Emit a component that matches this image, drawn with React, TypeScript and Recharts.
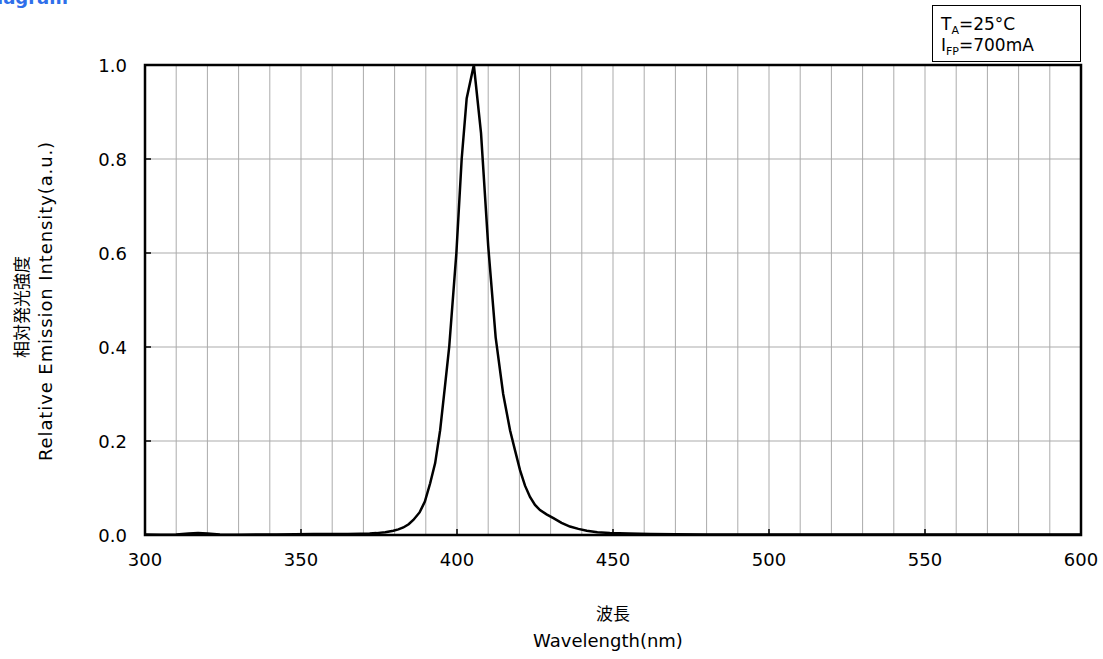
import React from "react";
import {
  LineChart,
  Line,
  XAxis,
  YAxis,
  CartesianGrid,
  ReferenceArea,
} from "recharts";

// measured spectrum (wavelength nm -> relative intensity)
const wavelengths = [
  300, 305, 310, 314, 317, 320, 324, 330, 336, 342, 348, 354, 360, 365, 369,
  372, 374.2, 377, 379.6, 381.2, 382.8, 384.5, 386, 388, 389.7, 391.4, 393,
  394.6, 396.2, 397.5, 399.8, 401.5, 403.1, 405.4, 407.7, 410, 412.4, 414.8,
  417, 418.6, 420.2, 421.8, 423.4, 425, 426.6, 428.7, 430.9, 433.5, 436.2,
  438.9, 441.6, 445, 449, 455, 462, 470, 480, 495, 510, 530, 550, 575, 600,
];
const intensity = [
  0.001, 0.0005, 0.001, 0.003, 0.004, 0.003, 0.001, 0.0005, 0.001, 0.001,
  0.0015, 0.002, 0.002, 0.002, 0.0025, 0.003, 0.004, 0.006, 0.009, 0.012,
  0.016, 0.023, 0.032, 0.048, 0.071, 0.11, 0.153, 0.223, 0.32, 0.4, 0.6, 0.8,
  0.929, 1.0, 0.855, 0.615, 0.42, 0.3, 0.223, 0.18, 0.138, 0.105, 0.081,
  0.064, 0.053, 0.044, 0.036, 0.026, 0.018, 0.013, 0.009, 0.006, 0.004, 0.003,
  0.002, 0.0015, 0.001, 0.001, 0.001, 0.0008, 0.001, 0.0008, 0.001,
];

const xLabels = [300, 350, 400, 450, 500, 550, 600];
const xGrid = Array.from({ length: 31 }, (_, i) => 300 + i * 10);
const yTicks = [0, 0.2, 0.4, 0.6, 0.8, 1.0];

const data = wavelengths.map((w, i) => ({ w, v: intensity[i] }));

const FONT = "'DejaVu Sans', Verdana, sans-serif";
const CJK = "'Noto Sans CJK JP', sans-serif";

const XTick = ({ x, y, payload }: any) => {
  const major = xLabels.includes(payload.value);
  if (!major) return <g />;
  return (
    <g>
      <line x1={x} x2={x} y1={y} y2={y - 6} stroke="#000" strokeWidth={1.5} />
      <text x={x} y={y + 31} textAnchor="middle" fontSize={18} fontFamily={FONT} fill="#000">
        {payload.value}
      </text>
    </g>
  );
};

const YTick = ({ x, y, payload }: any) => (
  <g>
    <line x1={x} x2={x + 6} y1={y} y2={y} stroke="#000" strokeWidth={1.5} />
    <text x={x - 18} y={y + 6.5} textAnchor="end" fontSize={18} fontFamily={FONT} fill="#000">
      {payload.value.toFixed(1)}
    </text>
  </g>
);

export default function App() {
  return (
    <div style={{ position: "absolute", left: 0, top: 0, width: 1103, height: 659, background: "#fff" }}>
      <LineChart
        width={1103}
        height={659}
        data={data}
        margin={{ top: 65, right: 22, bottom: 94, left: 85 }}
      >
        <CartesianGrid stroke="#ababab" strokeWidth={1} />
        <XAxis
          dataKey="w"
          type="number"
          domain={[300, 600]}
          ticks={xGrid}
          interval={0}
          height={30}
          tickSize={0}
          tickMargin={0}
          axisLine={false}
          tickLine={false}
          tick={<XTick />}
        />
        <YAxis
          type="number"
          domain={[0, 1]}
          ticks={yTicks}
          interval={0}
          width={60}
          tickSize={0}
          tickMargin={0}
          axisLine={false}
          tickLine={false}
          tick={<YTick />}
        />
        <ReferenceArea
          x1={300}
          x2={600}
          y1={0}
          y2={1}
          fill="none"
          fillOpacity={0}
          stroke="#000"
          strokeWidth={2.5}
          ifOverflow="visible"
        />
        <Line
          type="linear"
          dataKey="v"
          stroke="#000"
          strokeWidth={2.5}
          dot={false}
          isAnimationActive={false}
        />
      </LineChart>
      <svg
        width={1103}
        height={659}
        style={{ position: "absolute", left: 0, top: 0, pointerEvents: "none" }}
      >
        <text x={68} y={4} textAnchor="end" fontSize={18} fontWeight="bold" fontFamily={FONT} fill="#2f6fea">
          Spectrum Diagram
        </text>
        <rect x={932.5} y={5.5} width={148} height={56} fill="#fff" stroke="#000" strokeWidth={1} />
        <text x={941} y={30} fontSize={17} fontFamily={FONT} fill="#000">
          T<tspan fontSize={11} dy={4}>A</tspan>
          <tspan dy={-4}>=25°C</tspan>
        </text>
        <text x={941} y={51} fontSize={17} fontFamily={FONT} fill="#000">
          I<tspan fontSize={11} dy={4}>FP</tspan>
          <tspan dy={-4}>=700mA</tspan>
        </text>
        <text
          x={20}
          y={307}
          transform="rotate(-90 20 307)"
          textAnchor="middle"
          dominantBaseline="central"
          fontSize={17}
          fontFamily={CJK}
          fill="#000"
        >
          相対発光強度
        </text>
        <text
          x={45}
          y={301}
          transform="rotate(-90 45 301)"
          textAnchor="middle"
          dominantBaseline="central"
          fontSize={18}
          letterSpacing={0.9}
          fontFamily={FONT}
          fill="#000"
        >
          Relative Emission Intensity(a.u.)
        </text>
        <text x={613} y={612} textAnchor="middle" dominantBaseline="central" fontSize={17} fontFamily={CJK} fill="#000">
          波長
        </text>
        <text x={608} y={647} textAnchor="middle" fontSize={18} fontFamily={FONT} fill="#000">
          Wavelength(nm)
        </text>
      </svg>
    </div>
  );
}
